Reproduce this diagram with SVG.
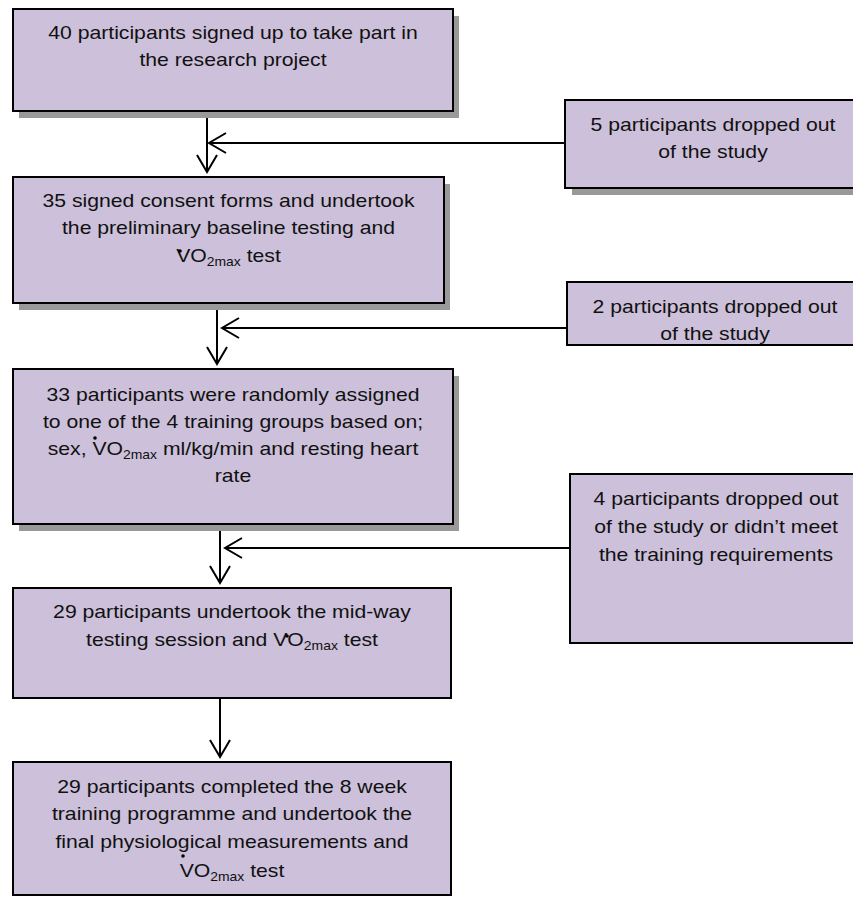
<svg xmlns="http://www.w3.org/2000/svg" width="853" height="903" viewBox="0 0 853 903">
<style>
.box{fill:#CCC0DA;stroke:#000;stroke-width:2}
.shadow{fill:#999}
.t{font-family:"Liberation Sans",Arial,sans-serif;font-size:19px;fill:#111;text-anchor:middle}
.sub{font-size:12.5px}
.ln{stroke:#000;stroke-width:2;fill:none}
.dot{fill:#000}
</style>
<defs>
<marker id="arr" viewBox="-20 -12 22 24" refX="0" refY="0" markerWidth="22" markerHeight="24" markerUnits="userSpaceOnUse" orient="auto">
<path d="M-17,-10 L0,0 L-17,10" fill="none" stroke="#000" stroke-width="2"/>
</marker>
</defs>
<g id="connectors">
<line class="ln" x1="207" y1="111" x2="207" y2="172" marker-end="url(#arr)"/>
<line class="ln" x1="565" y1="143" x2="209" y2="143" marker-end="url(#arr)"/>
<line class="ln" x1="217" y1="303" x2="217" y2="364" marker-end="url(#arr)"/>
<line class="ln" x1="567" y1="328" x2="222" y2="328" marker-end="url(#arr)"/>
<line class="ln" x1="220" y1="524" x2="220" y2="583" marker-end="url(#arr)"/>
<line class="ln" x1="570" y1="548" x2="225" y2="548" marker-end="url(#arr)"/>
<line class="ln" x1="220" y1="698" x2="220" y2="757" marker-end="url(#arr)"/>
</g>
<g id="n1">
<rect class="shadow" x="19" y="16" width="440" height="102"/>
<rect class="box" x="13" y="9" width="440" height="102"/>
<text class="t" transform="translate(233 0) scale(1.115 1)"><tspan x="0" y="39.5">40 participants signed up to take part in</tspan><tspan x="0" y="66.5">the research project</tspan></text>
</g>
<g id="n2">
<rect class="shadow" x="572" y="107" width="300" height="88"/>
<rect class="box" x="565" y="100" width="300" height="88"/>
<text class="t" transform="translate(713 0) scale(1.115 1)"><tspan x="0" y="131">5 participants dropped out</tspan><tspan x="0" y="158.5">of the study</tspan></text>
</g>
<g id="n3">
<rect class="shadow" x="19" y="184" width="431" height="126"/>
<rect class="box" x="13" y="177" width="431" height="126"/>
<text class="t" transform="translate(228.5 0) scale(1.115 1)"><tspan x="0" y="207">35 signed consent forms and undertook</tspan><tspan x="0" y="234.5">the preliminary baseline testing and</tspan><tspan x="0" y="262">VO<tspan class="sub" dy="4">2max</tspan><tspan dy="-4"> test</tspan></tspan></text>
<circle class="dot" cx="180" cy="251" r="1.8"/>
</g>
<g id="n4">
<rect class="box" x="567" y="282" width="300" height="63"/>
<text class="t" transform="translate(715 0) scale(1.115 1)"><tspan x="0" y="313">2 participants dropped out</tspan><tspan x="0" y="340">of the study</tspan></text>
</g>
<g id="n5">
<rect class="shadow" x="19" y="376" width="440" height="155"/>
<rect class="box" x="13" y="369" width="440" height="155"/>
<text class="t" transform="translate(233 0) scale(1.115 1)"><tspan x="0" y="401.5">33 participants were randomly assigned</tspan><tspan x="0" y="428.5">to one of the 4 training groups based on;</tspan><tspan x="0" y="455">sex, VO<tspan class="sub" dy="4">2max</tspan><tspan dy="-4"> ml/kg/min and resting heart</tspan></tspan><tspan x="0" y="482">rate</tspan></text>
<circle class="dot" cx="95" cy="438" r="1.8"/>
</g>
<g id="n6">
<rect class="box" x="570" y="474" width="300" height="169"/>
<text class="t" transform="translate(716 0) scale(1.115 1)"><tspan x="0" y="505">4 participants dropped out</tspan><tspan x="0" y="533">of the study or didn’t meet</tspan><tspan x="0" y="561">the training requirements</tspan></text>
</g>
<g id="n7">
<rect class="box" x="13" y="588" width="438" height="110"/>
<text class="t" transform="translate(232 0) scale(1.115 1)"><tspan x="0" y="618.5">29 participants undertook the mid-way</tspan><tspan x="0" y="646">testing session and VO<tspan class="sub" dy="4">2max</tspan><tspan dy="-4"> test</tspan></tspan></text>
<circle class="dot" cx="287" cy="636" r="1.8"/>
</g>
<g id="n8">
<rect class="box" x="13" y="762" width="438" height="133"/>
<text class="t" transform="translate(232 0) scale(1.115 1)"><tspan x="0" y="793.5">29 participants completed the 8 week</tspan><tspan x="0" y="820.5">training programme and undertook the</tspan><tspan x="0" y="848.5">final physiological measurements and</tspan><tspan x="0" y="877">VO<tspan class="sub" dy="4">2max</tspan><tspan dy="-4"> test</tspan></tspan></text>
<circle class="dot" cx="183" cy="856" r="1.8"/>
</g>
</svg>
